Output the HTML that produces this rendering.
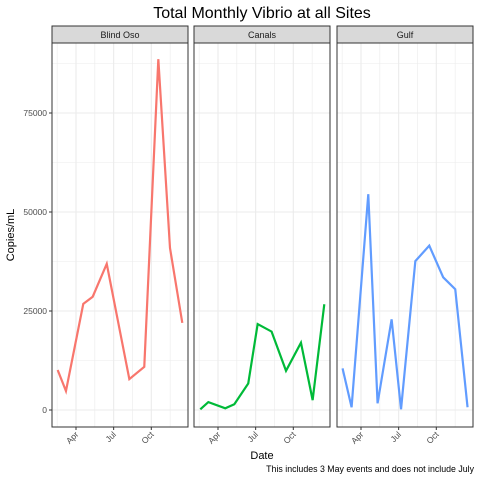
<!DOCTYPE html>
<html><head><meta charset="utf-8"><style>body{margin:0;background:#fff}svg{font-family:"Liberation Sans",sans-serif}</style></head>
<body>
<svg id="c" width="480" height="480"></svg>
<script>
const panels=["Blind Oso","Canals","Gulf"];
const colors=["#F8766D","#00BA38","#619CFF"];
const monthsOso=[1.54,2.2,3.58,4.33,5.45,7.25,8.44,9.56,10.49,11.47];
const valsOso=[10100,4800,26800,28600,36900,7800,10900,88600,40900,22000];
const monthsCanals=[1.59,2.23,3.58,4.3,5.41,6.16,7.27,8.42,9.61,10.54,11.47];
const valsCanals=[180,2000,430,1440,6700,21700,19800,9900,17000,2500,26700];
const monthsGulf=[1.53,2.25,3.58,4.32,5.44,6.19,7.33,8.44,9.55,10.51,11.49];
const valsGulf=[10500,700,54500,1700,22900,200,37600,41500,33500,30500,700];
const yTicks=[0,25000,50000,75000];
const yTickLabels=["0","25000","50000","75000"];
const xTicks=[3,6,9];
const xTickLabels=["Apr","Jul","Oct"];
const series=[[monthsOso,valsOso],[monthsCanals,valsCanals],[monthsGulf,valsGulf]];
const NS="http://www.w3.org/2000/svg",svg=document.getElementById('c');
function el(t,a,p){const e=document.createElementNS(NS,t);for(const k in a)e.setAttribute(k,a[k]);(p||svg).appendChild(e);return e;}
const lefts=[52,194,337],W=136,pTop=43,pBot=427;
const y=v=>410-v*99/25000;
let t=el('text',{x:262,y:18,'font-size':16,'text-anchor':'middle',fill:'#000'});t.textContent="Total Monthly Vibrio at all Sites";

panels.forEach((name,i)=>{
  const L=lefts[i],x=m=>L+24+(m-3)*12.55;
  const g=el('g',{});
  
  
  for(let v=-12500;v<=100000;v+=12500){const yy=y(v);if(yy<pTop||yy>pBot)continue;
    el('line',{x1:L,x2:L+W,y1:yy,y2:yy,stroke:'#ebebeb','stroke-width':v%25000===0?1.1:0.6},g);}
  for(let m=0;m<=13;m+=1.5){const xx=x(m);if(xx<L||xx>L+W)continue;
    el('line',{x1:xx,x2:xx,y1:pTop,y2:pBot,stroke:'#ebebeb','stroke-width':(m%3===0)?1.1:0.6},g);}
  const [ms,vs]=series[i];
  const p=el('polyline',{points:ms.map((m,j)=>x(m)+','+y(vs[j])).join(' '),fill:'none',stroke:colors[i],'stroke-width':2.2},g);
  
  
  el('rect',{x:L,y:pTop,width:W,height:pBot-pTop,fill:'none',stroke:'#333','stroke-width':1},g);
  const s=el('rect',{x:L,y:26,width:W,height:17,fill:'#d9d9d9',stroke:'#333','stroke-width':1},g);
  
  const st=el('text',{x:L+W/2,y:38,'font-size':9,'text-anchor':'middle',fill:'#1a1a1a'},g);st.textContent=name;
  xTicks.forEach((m,k)=>{const xx=x(m);el('line',{x1:xx,x2:xx,y1:pBot,y2:pBot+3,stroke:'#333'},g);
    const tx=el('text',{x:xx+3,y:pBot+8,'font-size':8.5,'text-anchor':'end',fill:'#4d4d4d',transform:`rotate(-45 ${xx+3} ${pBot+8})`},g);tx.textContent=xTickLabels[k];
    });
});
yTicks.forEach((v,k)=>{const yy=y(v);el('line',{x1:49,x2:52,y1:yy,y2:yy,stroke:'#333'});
  const tx=el('text',{x:47,y:yy+3,'font-size':8.5,'text-anchor':'end',fill:'#4d4d4d'});tx.textContent=yTickLabels[k];
  });
t=el('text',{x:262,y:459,'font-size':11,'text-anchor':'middle',fill:'#000'});t.textContent="Date";

t=el('text',{x:14,y:235,'font-size':11,'text-anchor':'middle',fill:'#000',transform:'rotate(-90 14 235)'});t.textContent="Copies/mL";

t=el('text',{x:474,y:472,'font-size':8.8,'text-anchor':'end',fill:'#000'});t.textContent="This includes 3 May events and does not include July";

</script>
</body></html>
